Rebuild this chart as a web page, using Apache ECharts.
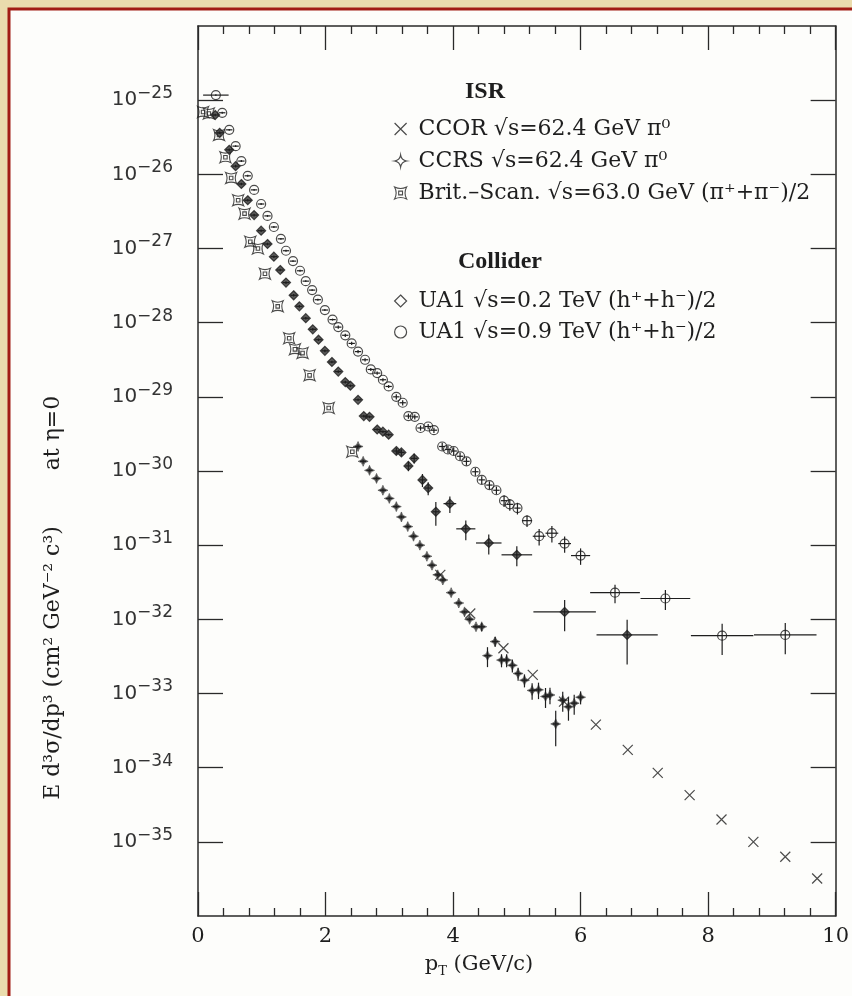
<!DOCTYPE html>
<html>
<head>
<meta charset="utf-8">
<script src="https://cdn.jsdelivr.net/npm/echarts@6/dist/echarts.min.js"></script>
<style>
  html, body { margin: 0; padding: 0; background: #eadcad; }
  #chart { width: 852px; height: 996px; }
</style>
</head>
<body>
<div id="chart"></div>
<script>
// ---- Invariant cross sections E d3sigma/dp3 at eta = 0 (cm^2 GeV^-2 c^3) ----

// UA1, sqrt(s) = 0.9 TeV, (h+ + h-)/2
const ua1_900_pt = [0.28,0.38,0.49,0.59,0.68,0.78,0.88,0.99,1.09,1.19,1.30,1.38,1.49,1.60,1.69,1.79,
  1.88,1.99,2.11,2.20,2.31,2.41,2.51,2.62,2.71,2.81,2.90,2.99,
  3.11,3.21,3.30,3.40,3.49,3.61,3.70,3.83,3.92,4.01,4.11,4.21,4.35,4.45,4.57,4.68,
  4.80,4.89,5.01,5.16,5.35,5.55,5.75,6.00,6.54,7.33,8.22,9.21];
const ua1_900_val = [1.17e-25,6.76e-26,3.98e-26,2.40e-26,1.51e-26,9.55e-27,6.17e-27,3.98e-27,2.75e-27,1.95e-27,1.35e-27,9.33e-28,6.76e-28,5.01e-28,3.63e-28,2.75e-28,
  2.04e-28,1.48e-28,1.10e-28,8.71e-29,6.76e-29,5.25e-29,4.07e-29,3.16e-29,2.34e-29,2.09e-29,1.70e-29,1.38e-29,
  1.00e-29,8.32e-30,5.50e-30,5.37e-30,3.80e-30,3.98e-30,3.55e-30,2.14e-30,1.95e-30,1.86e-30,1.58e-30,1.35e-30,9.77e-31,7.59e-31,6.46e-31,5.50e-31,
  3.98e-31,3.55e-31,3.16e-31,2.14e-31,1.32e-31,1.45e-31,1.05e-31,7.24e-32,2.29e-32,1.91e-32,6.03e-33,6.17e-33];
const ua1_900_xerr = [0.20,0.05,0.05,0.05,0.05,0.05,0.05,0.05,0.05,0.05,0.05,0.05,0.05,0.05,0.05,0.05,
  0.05,0.05,0.05,0.05,0.05,0.05,0.05,0.05,0.05,0.05,0.05,0.05,
  0.05,0.05,0.05,0.05,0.05,0.05,0.05,0.05,0.05,0.05,0.05,0.05,0.05,0.05,0.05,0.05,
  0.05,0.05,0.05,0.08,0.10,0.10,0.10,0.15,0.39,0.39,0.49,0.49];
const ua1_900_yerr = [0.03,0.03,0.03,0.03,0.03,0.03,0.03,0.03,0.03,0.03,0.03,0.03,0.03,0.03,0.03,0.03,
  0.03,0.03,0.03,0.05,0.05,0.05,0.05,0.05,0.05,0.05,0.05,0.05,
  0.08,0.08,0.08,0.08,0.08,0.08,0.08,0.12,0.12,0.12,0.12,0.12,0.12,0.12,0.12,0.12,
  0.18,0.18,0.18,0.18,0.25,0.25,0.25,0.25,0.28,0.30,0.45,0.45];

// UA1, sqrt(s) = 0.2 TeV, (h+ + h-)/2
const ua1_200_pt = [0.27,0.34,0.49,0.59,0.68,0.78,0.88,0.99,1.09,1.19,1.29,1.38,
  1.50,1.59,1.69,1.80,1.89,1.99,2.10,2.20,2.31,2.39,
  2.51,2.60,2.69,2.81,2.90,2.99,
  3.11,3.19,3.30,3.39,3.52,3.61,
  3.73,3.95,4.20,4.56,5.00,5.75,6.73];
const ua1_200_val = [6.31e-26,3.63e-26,2.14e-26,1.29e-26,7.41e-27,4.47e-27,2.82e-27,1.74e-27,1.15e-27,7.76e-28,5.13e-28,3.47e-28,
  2.34e-28,1.66e-28,1.15e-28,8.13e-29,5.89e-29,4.17e-29,2.95e-29,2.19e-29,1.58e-29,1.41e-29,
  9.12e-30,5.50e-30,5.37e-30,3.63e-30,3.39e-30,3.09e-30,
  1.86e-30,1.78e-30,1.17e-30,1.48e-30,7.59e-31,5.89e-31,
  2.82e-31,3.63e-31,1.66e-31,1.07e-31,7.41e-32,1.26e-32,6.17e-33];
const ua1_200_xerr = [0.05,0.05,0.05,0.05,0.05,0.05,0.05,0.05,0.05,0.05,0.05,0.05,
  0.05,0.05,0.05,0.05,0.05,0.05,0.05,0.05,0.05,0.05,
  0.05,0.05,0.05,0.05,0.05,0.05,
  0.05,0.05,0.05,0.05,0.05,0.05,
  0.05,0.10,0.15,0.20,0.24,0.49,0.48];
const ua1_200_yerr = [0.04,0.04,0.04,0.04,0.04,0.04,0.04,0.04,0.04,0.04,0.04,0.04,
  0.04,0.04,0.04,0.04,0.04,0.04,0.04,0.04,0.04,0.04,
  0.04,0.04,0.04,0.04,0.04,0.04,
  0.10,0.10,0.15,0.15,0.20,0.20,
  0.35,0.25,0.30,0.30,0.30,0.45,0.60];

// CCRS, sqrt(s) = 62.4 GeV, pi0
const ccrs_pt = [2.51,2.59,2.69,2.80,2.90,3.00,
  3.11,3.19,3.29,3.38,3.48,
  3.59,3.67,3.76,3.84,3.97,
  4.09,4.18,4.26,4.36,4.45,
  4.54,4.66,4.76,4.84,4.93,
  5.02,5.12,5.24,5.34,5.45,
  5.52,5.61,5.72,5.81,5.90,6.00];
const ccrs_val = [2.14e-30,1.35e-30,1.02e-30,7.94e-31,5.50e-31,4.27e-31,
  3.31e-31,2.40e-31,1.78e-31,1.32e-31,1.00e-31,
  7.08e-32,5.37e-32,3.98e-32,3.39e-32,2.29e-32,
  1.66e-32,1.26e-32,1.00e-32,7.94e-33,7.94e-33,
  3.24e-33,5.01e-33,2.82e-33,2.82e-33,2.40e-33,
  1.86e-33,1.51e-33,1.10e-33,1.12e-33,9.12e-34,
  9.55e-34,3.89e-34,8.13e-34,6.61e-34,7.41e-34,8.91e-34];
const ccrs_xerr = [0.05,0.05,0.05,0.05,0.05,0.05,0.05,0.05,0.05,0.05,0.05,0.05,0.05,0.05,0.05,0.05,0.05,0.05,0.05,
  0.05,0.05,0.05,0.05,0.05,0.05,0.05,0.05,0.05,0.05,0.05,0.05,0.05,0.05,0.05,0.05,0.05,0.05];
const ccrs_yerr = [0.04,0.04,0.04,0.04,0.04,0.04,0.04,0.04,0.04,0.04,0.04,0.04,0.04,0.04,0.04,0.04,0.04,0.04,0.04,0.04,
  0.12,0.30,0.15,0.20,0.20,0.20,0.20,0.20,0.25,0.25,0.30,0.25,0.50,0.30,0.35,0.30,0.20];

// CCOR, sqrt(s) = 62.4 GeV, pi0
const ccor_pt = [3.80,4.27,4.79,5.25,5.74,6.24,6.74,7.21,7.71,8.21,8.71,9.21,9.71];
const ccor_val = [3.98e-32,1.20e-32,4.07e-33,1.78e-33,7.76e-34,3.80e-34,1.74e-34,8.51e-35,4.27e-35,2.0e-35,1.0e-35,6.3e-36,3.2e-36];

// British-Scandinavian, sqrt(s) = 63.0 GeV, (pi+ + pi-)/2
const bs_pt = [0.08,0.17,0.33,0.43,0.52,0.63,0.73,0.82,0.94,1.05,1.25,1.43,1.52,1.64,1.75,2.05,2.42];
const bs_val = [6.92e-26,6.61e-26,3.39e-26,1.70e-26,8.91e-27,4.47e-27,2.95e-27,1.23e-27,1.00e-27,4.57e-28,1.66e-28,6.17e-29,4.37e-29,3.89e-29,1.95e-29,7.08e-30,1.82e-30];

// Axis ticks (the y axis is laid out in decades, log10 of the cross section)
const xTicks = [0, 2, 4, 6, 8, 10];
const yDecades = [-25,-26,-27,-28,-29,-30,-31,-32,-33,-34,-35];

// Legend texts
const NAME_CCOR = 'CCOR √s=62.4 GeV π⁰';
const NAME_CCRS = 'CCRS √s=62.4 GeV π⁰';
const NAME_BS   = 'Brit.–Scan. √s=63.0 GeV (π⁺+π⁻)/2';
const NAME_U200 = 'UA1 √s=0.2 TeV (h⁺+h⁻)/2';
const NAME_U900 = 'UA1 √s=0.9 TeV (h⁺+h⁻)/2';

// ---- styling ----
const INK = '#1e1e1e';
const AXIS = '#2a2a2a';
const SERIF = '"DejaVu Serif", "Liberation Serif", serif';
const SANS = '"DejaVu Sans", "Liberation Sans", sans-serif';

const SYM_CROSS = 'path://M0,0L10,10M10,0L0,10';
const SYM_STAR4 = 'path://M5,0Q5.7,4.3 10,5Q5.7,5.7 5,10Q4.3,5.7 0,5Q4.3,4.3 5,0Z';
const SYM_BS = 'path://M0,0Q5,2.6 10,0Q7.4,5 10,10Q5,7.4 0,10Q2.6,5 0,0ZM3.4,3.4L6.6,3.4L6.6,6.6L3.4,6.6Z';

const lg = Math.log10;
function pairs(xs, ys) { return xs.map((x, i) => [x, lg(ys[i])]); }
function errRows(xs, ys, xe, ye) {
  return xs.map((x, i) => [x, lg(ys[i]), x - xe[i], x + xe[i], lg(ys[i] * (1 - ye[i])), lg(ys[i] * (1 + ye[i]))]);
}

function markerSeries(name, xs, ys, symbol, size, itemStyle) {
  return {
    type: 'scatter', name, data: pairs(xs, ys), symbol, symbolSize: size,
    itemStyle, z: 3, silent: true, emphasis: { disabled: true }, animation: false
  };
}

function errorSeries(name, xs, ys, xe, ye) {
  return {
    type: 'custom', name, data: errRows(xs, ys, xe, ye), z: 4, silent: true, animation: false,
    encode: { x: 0, y: 1 },
    renderItem(params, api) {
      const y = api.value(1), x = api.value(0);
      const st = { stroke: INK, lineWidth: 1.2 };
      const a = api.coord([api.value(2), y]), b = api.coord([api.value(3), y]);
      const c = api.coord([x, api.value(4)]), d = api.coord([x, api.value(5)]);
      return {
        type: 'group', children: [
          { type: 'line', shape: { x1: a[0], y1: a[1], x2: b[0], y2: b[1] }, style: st },
          { type: 'line', shape: { x1: c[0], y1: c[1], x2: d[0], y2: d[1] }, style: st }
        ]
      };
    }
  };
}

const open = { color: 'rgba(0,0,0,0)', borderColor: INK, borderWidth: 1.2 };

const xAxisBase = {
  type: 'value', min: 0, max: 10, interval: 2,
  axisLine: { show: true, onZero: false, lineStyle: { color: AXIS, width: 1.5 } },
  axisTick: { show: true, inside: true, length: 24, lineStyle: { color: AXIS, width: 1.3 } },
  minorTick: { show: true, splitNumber: 5, length: 8, lineStyle: { color: AXIS, width: 1.3 } },
  splitLine: { show: false }, minorSplitLine: { show: false }
};
const yAxisBase = {
  type: 'value', min: -36, max: -24, interval: 1,
  axisLine: { show: true, onZero: false, lineStyle: { color: AXIS, width: 1.5 } },
  axisTick: { show: true, inside: true, length: 25, customValues: yDecades, lineStyle: { color: AXIS, width: 1.3 } },
  minorTick: { show: false }, splitLine: { show: false }
};

const option = {
  backgroundColor: '#eadcad',
  animation: false,
  grid: { left: 198, right: 9, top: 26, bottom: 80, containLabel: false },
  xAxis: [
    Object.assign({}, xAxisBase, {
      position: 'bottom',
      axisLabel: { show: true, margin: 10, color: INK, fontFamily: SERIF, fontSize: 21, customValues: xTicks }
    }),
    Object.assign({}, xAxisBase, { position: 'top', axisLabel: { show: false } })
  ],
  yAxis: [
    Object.assign({}, yAxisBase, {
      position: 'left',
      axisLabel: {
        show: true, margin: 25, customValues: yDecades,
        formatter: v => '{b|10}{s|−' + Math.round(-v) + '}',
        rich: {
          b: { fontFamily: SANS, fontSize: 20, color: '#333', lineHeight: 30 },
          s: { fontFamily: SANS, fontSize: 17, color: '#333', lineHeight: 17, verticalAlign: 'top' }
        }
      }
    }),
    Object.assign({}, yAxisBase, { position: 'right', axisLabel: { show: false } })
  ],
  legend: [
    {
      orient: 'vertical', left: 389, top: 113, itemGap: 10, itemWidth: 12, itemHeight: 12,
      selectedMode: false,
      data: [
        { name: NAME_CCOR, icon: SYM_CROSS, itemStyle: { color: 'rgba(0,0,0,0)', borderColor: INK, borderWidth: 1.2 } },
        { name: NAME_CCRS, icon: SYM_STAR4, itemStyle: { color: '#fff', borderColor: INK, borderWidth: 1.2 } },
        { name: NAME_BS, icon: SYM_BS, itemStyle: { color: 'rgba(0,0,0,0)', borderColor: INK, borderWidth: 1.1 } }
      ],
      formatter: n => '{t|' + n + '}',
      textStyle: { rich: { t: { fontFamily: SERIF, fontSize: 22, color: INK, lineHeight: 24, padding: [0, 0, 0, 7] } } }
    },
    {
      orient: 'vertical', left: 389, top: 285, itemGap: 9, itemWidth: 12, itemHeight: 12,
      selectedMode: false,
      data: [
        { name: NAME_U200, icon: 'diamond', itemStyle: { color: 'rgba(0,0,0,0)', borderColor: INK, borderWidth: 1.2 } },
        { name: NAME_U900, icon: 'circle', itemStyle: { color: 'rgba(0,0,0,0)', borderColor: INK, borderWidth: 1.2 } }
      ],
      formatter: n => '{t|' + n + '}',
      textStyle: { rich: { t: { fontFamily: SERIF, fontSize: 22, color: INK, lineHeight: 24, padding: [0, 0, 0, 7] } } }
    }
  ],
  graphic: [
    { type: 'rect', z: -100, silent: true,
      shape: { x: 9, y: 9, width: 900, height: 1000 },
      style: { fill: '#fdfdfb', stroke: '#a11d14', lineWidth: 3 } },
    { type: 'text', x: 485, y: 92, silent: true,
      style: { text: 'ISR', font: 'bold 24px "Liberation Serif", serif', fill: INK, align: 'center', verticalAlign: 'middle', textAlign: 'center', textVerticalAlign: 'middle' } },
    { type: 'text', x: 500, y: 262, silent: true,
      style: { text: 'Collider', font: 'bold 24px "Liberation Serif", serif', fill: INK, align: 'center', verticalAlign: 'middle', textAlign: 'center', textVerticalAlign: 'middle' } },
    { type: 'text', x: 53, y: 663, rotation: Math.PI / 2, silent: true,
      style: { text: 'E d³σ/dp³ (cm² GeV⁻² c³)', font: '22px ' + SERIF, fill: INK, align: 'center', verticalAlign: 'middle', textAlign: 'center', textVerticalAlign: 'middle' } },
    { type: 'text', x: 53, y: 433, rotation: Math.PI / 2, silent: true,
      style: { text: 'at η=0', font: '22px ' + SERIF, fill: INK, align: 'center', verticalAlign: 'middle', textAlign: 'center', textVerticalAlign: 'middle' } },
    { type: 'text', x: 479, y: 965, silent: true,
      style: {
        text: '{a|p}{s|T}{a| (GeV/c)}', align: 'center', verticalAlign: 'middle', textAlign: 'center', textVerticalAlign: 'middle',
        rich: {
          a: { fontFamily: SERIF, fontSize: 21, fill: INK, color: INK, lineHeight: 26 },
          s: { fontFamily: SERIF, fontSize: 13, fill: INK, color: INK, lineHeight: 14, verticalAlign: 'bottom' }
        }
      } }
  ],
  series: [
    markerSeries(NAME_CCOR, ccor_pt, ccor_val, SYM_CROSS, 10, open),
    markerSeries(NAME_CCRS, ccrs_pt, ccrs_val, SYM_STAR4, 10, { color: INK, borderColor: INK, borderWidth: 0.6 }),
    errorSeries(NAME_CCRS, ccrs_pt, ccrs_val, ccrs_xerr, ccrs_yerr),
    markerSeries(NAME_BS, bs_pt, bs_val, SYM_BS, 11, { color: 'rgba(0,0,0,0)', borderColor: INK, borderWidth: 1.1 }),
    markerSeries(NAME_U200, ua1_200_pt, ua1_200_val, 'diamond', 9, { color: '#333', borderColor: INK, borderWidth: 1.2 }),
    errorSeries(NAME_U200, ua1_200_pt, ua1_200_val, ua1_200_xerr, ua1_200_yerr),
    markerSeries(NAME_U900, ua1_900_pt, ua1_900_val, 'circle', 9, open),
    errorSeries(NAME_U900, ua1_900_pt, ua1_900_val, ua1_900_xerr, ua1_900_yerr)
  ]
};

const chart = echarts.init(document.getElementById('chart'), null, { renderer: 'canvas' });
chart.setOption(option);
</script>
</body>
</html>
